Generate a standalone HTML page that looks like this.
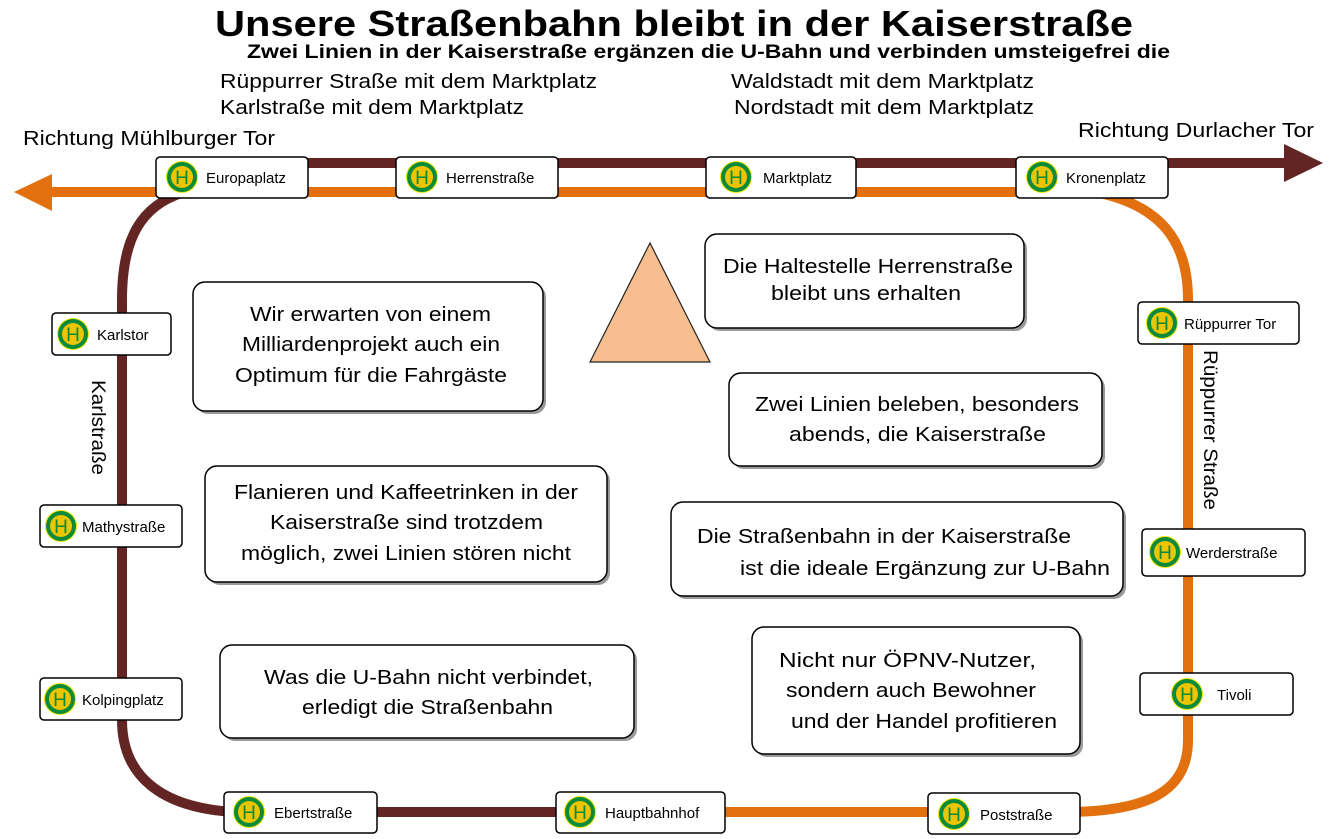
<!DOCTYPE html>
<html><head><meta charset="utf-8"><style>
html,body{margin:0;padding:0;background:#fff}
svg{display:block}
text{font-family:"Liberation Sans",sans-serif;fill:#000}
</style></head><body>
<svg width="1329" height="839" viewBox="0 0 1329 839" xmlns="http://www.w3.org/2000/svg">
<defs>
<g id="H">
<circle r="16" fill="#f2e600"/>
<circle r="15" fill="#0a8b3c"/>
<circle r="11" fill="#edc400"/>
<text x="0" y="7" text-anchor="middle" font-size="19" style="fill:#0a8b3c">H</text>
</g>
</defs>
<!-- header -->
<text x="215" y="36" font-size="36" font-weight="bold" textLength="918" lengthAdjust="spacingAndGlyphs">Unsere Straßenbahn bleibt in der Kaiserstraße</text>
<text x="247" y="58" font-size="19" font-weight="bold" textLength="923" lengthAdjust="spacingAndGlyphs">Zwei Linien in der Kaiserstraße ergänzen die U-Bahn und verbinden umsteigefrei die</text>
<text x="220" y="88" font-size="20" textLength="377" lengthAdjust="spacingAndGlyphs">Rüppurrer Straße mit dem Marktplatz</text>
<text x="220" y="114" font-size="20" textLength="304" lengthAdjust="spacingAndGlyphs">Karlstraße mit dem Marktplatz</text>
<text x="731" y="88" font-size="20" textLength="303" lengthAdjust="spacingAndGlyphs">Waldstadt mit dem Marktplatz</text>
<text x="734" y="114" font-size="20" textLength="300" lengthAdjust="spacingAndGlyphs">Nordstadt mit dem Marktplatz</text>
<text x="23" y="145" font-size="20" textLength="252" lengthAdjust="spacingAndGlyphs">Richtung Mühlburger Tor</text>
<text x="1078" y="137" font-size="20" textLength="236" lengthAdjust="spacingAndGlyphs">Richtung Durlacher Tor</text>

<!-- lines -->
<g fill="none" stroke-width="10">
<path d="M300,163 L1290,163" stroke="#622524"/>
<path d="M48,192 L1105,192" stroke="#e2700e"/>
<path d="M185,192 C140,205 122,240 122,300 L122,720 C122,775 160,808 235,812 L645,812" stroke="#622524"/>
<path d="M1095,192 C1160,205 1188,240 1188,300 L1188,740 C1188,790 1150,810 1075,812 L640,812" stroke="#e2700e"/>
</g>
<polygon points="1284,144 1323,163 1284,182" fill="#622524"/>
<polygon points="14,192 52,174 52,211" fill="#e2700e"/>

<text transform="translate(92,380) rotate(90)" font-size="19" textLength="95" lengthAdjust="spacingAndGlyphs">Karlstraße</text>
<text transform="translate(1204,350) rotate(90)" font-size="19" textLength="160" lengthAdjust="spacingAndGlyphs">Rüppurrer Straße</text>

<!-- triangle -->
<polygon points="650,243 590,362 710,362" fill="#f7be8f" stroke="#222" stroke-width="1.2"/>

<!-- text boxes -->
<g stroke="#000" stroke-width="1.5">
<rect x="196" y="285" width="350" height="129" rx="12" fill="#999" stroke="none"/>
<rect x="193" y="282" width="350" height="129" rx="12" fill="#fff"/>
<rect x="208" y="469" width="402" height="116" rx="12" fill="#999" stroke="none"/>
<rect x="205" y="466" width="402" height="116" rx="12" fill="#fff"/>
<rect x="223" y="648" width="414" height="93" rx="12" fill="#999" stroke="none"/>
<rect x="220" y="645" width="414" height="93" rx="12" fill="#fff"/>
<rect x="708" y="237" width="319" height="94" rx="12" fill="#999" stroke="none"/>
<rect x="705" y="234" width="319" height="94" rx="12" fill="#fff"/>
<rect x="732" y="376" width="373" height="93" rx="12" fill="#999" stroke="none"/>
<rect x="729" y="373" width="373" height="93" rx="12" fill="#fff"/>
<rect x="674" y="505" width="452" height="94" rx="12" fill="#999" stroke="none"/>
<rect x="671" y="502" width="452" height="94" rx="12" fill="#fff"/>
<rect x="755" y="630" width="328" height="127" rx="12" fill="#999" stroke="none"/>
<rect x="752" y="627" width="328" height="127" rx="12" fill="#fff"/>
</g>
<g font-size="20">
<text x="250" y="321" textLength="241" lengthAdjust="spacingAndGlyphs">Wir erwarten von einem</text>
<text x="242" y="351" textLength="258" lengthAdjust="spacingAndGlyphs">Milliardenprojekt auch ein</text>
<text x="235" y="382" textLength="272" lengthAdjust="spacingAndGlyphs">Optimum für die Fahrgäste</text>
<text x="234" y="499" textLength="344" lengthAdjust="spacingAndGlyphs">Flanieren und Kaffeetrinken in der</text>
<text x="270" y="529" textLength="273" lengthAdjust="spacingAndGlyphs">Kaiserstraße sind trotzdem</text>
<text x="241" y="560" textLength="330" lengthAdjust="spacingAndGlyphs">möglich, zwei Linien stören nicht</text>
<text x="264" y="684" textLength="329" lengthAdjust="spacingAndGlyphs">Was die U-Bahn nicht verbindet,</text>
<text x="302" y="714" textLength="251" lengthAdjust="spacingAndGlyphs">erledigt die Straßenbahn</text>
<text x="723" y="273" textLength="290" lengthAdjust="spacingAndGlyphs">Die Haltestelle Herrenstraße</text>
<text x="771" y="300" textLength="190" lengthAdjust="spacingAndGlyphs">bleibt uns erhalten</text>
<text x="755" y="411" textLength="324" lengthAdjust="spacingAndGlyphs">Zwei Linien beleben, besonders</text>
<text x="789" y="441" textLength="257" lengthAdjust="spacingAndGlyphs">abends, die Kaiserstraße</text>
<text x="697" y="543" textLength="374" lengthAdjust="spacingAndGlyphs">Die Straßenbahn in der Kaiserstraße</text>
<text x="740" y="575" textLength="370" lengthAdjust="spacingAndGlyphs">ist die ideale Ergänzung zur U-Bahn</text>
<text x="779" y="667" textLength="257" lengthAdjust="spacingAndGlyphs">Nicht nur ÖPNV-Nutzer,</text>
<text x="786" y="697" textLength="250" lengthAdjust="spacingAndGlyphs">sondern auch Bewohner</text>
<text x="791" y="728" textLength="266" lengthAdjust="spacingAndGlyphs">und der Handel profitieren</text>
</g>

<!-- stations -->
<g stroke="#000" stroke-width="1.5" fill="#fff">
<rect x="156" y="157" width="152" height="41" rx="4"/>
<rect x="396" y="157" width="162" height="41" rx="4"/>
<rect x="706" y="157" width="150" height="41" rx="4"/>
<rect x="1016" y="157" width="152" height="41" rx="4"/>
<rect x="52" y="313" width="119" height="42" rx="4"/>
<rect x="40" y="505" width="142" height="42" rx="4"/>
<rect x="40" y="678" width="142" height="42" rx="4"/>
<rect x="224" y="792" width="153" height="41" rx="4"/>
<rect x="556" y="792" width="169" height="41" rx="4"/>
<rect x="928" y="793" width="152" height="41" rx="4"/>
<rect x="1138" y="302" width="161" height="42" rx="4"/>
<rect x="1142" y="529" width="163" height="47" rx="4"/>
<rect x="1140" y="673" width="153" height="42" rx="4"/>
</g>
<use href="#H" x="182" y="177"/>
<use href="#H" x="422" y="177"/>
<use href="#H" x="736" y="177"/>
<use href="#H" x="1042" y="177"/>
<use href="#H" x="73" y="334"/>
<use href="#H" x="61" y="526"/>
<use href="#H" x="60" y="699"/>
<use href="#H" x="249" y="812"/>
<use href="#H" x="580" y="812"/>
<use href="#H" x="954" y="814"/>
<use href="#H" x="1162" y="323"/>
<use href="#H" x="1165" y="552"/>
<use href="#H" x="1187" y="694"/>
<g font-size="15">
<text x="206" y="183">Europaplatz</text>
<text x="446" y="183">Herrenstraße</text>
<text x="763" y="183">Marktplatz</text>
<text x="1066" y="183">Kronenplatz</text>
<text x="97" y="340">Karlstor</text>
<text x="82" y="532">Mathystraße</text>
<text x="82" y="705">Kolpingplatz</text>
<text x="274" y="818">Ebertstraße</text>
<text x="605" y="818">Hauptbahnhof</text>
<text x="980" y="820">Poststraße</text>
<text x="1184" y="329">Rüppurrer Tor</text>
<text x="1186" y="558">Werderstraße</text>
<text x="1217" y="700">Tivoli</text>
</g>
</svg>
</body></html>
